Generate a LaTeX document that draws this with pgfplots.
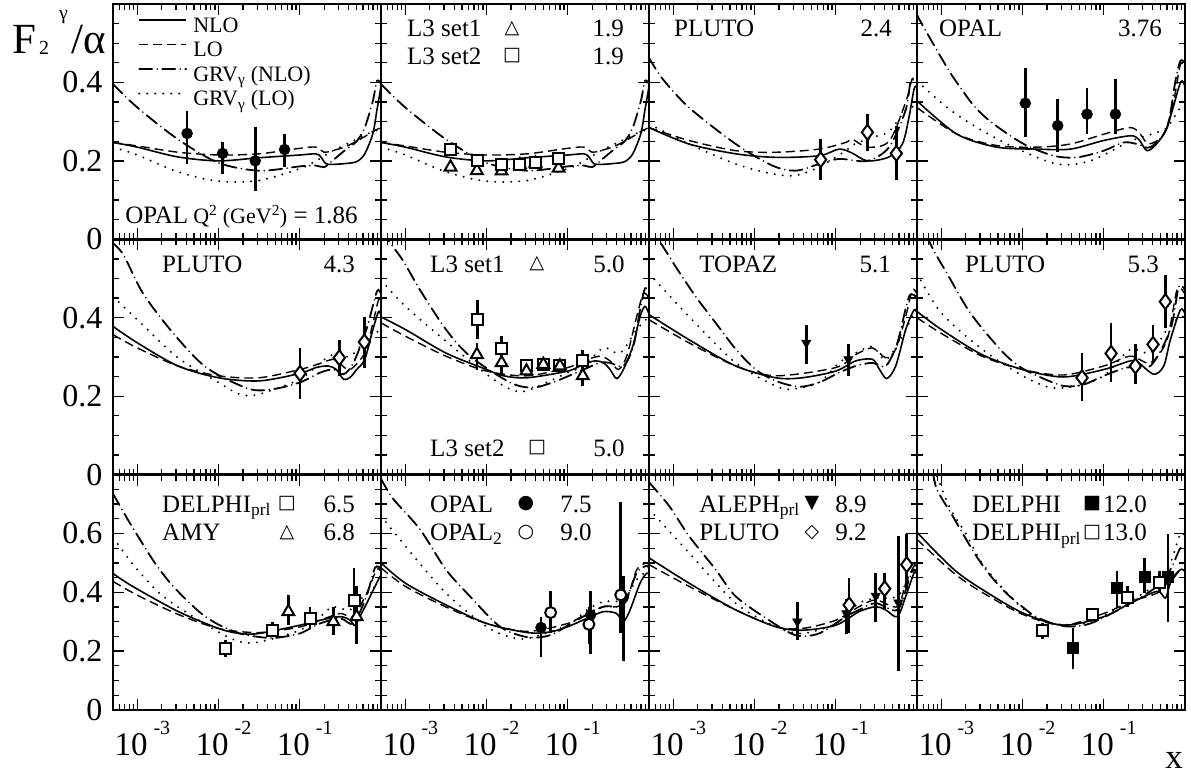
\documentclass[border=0pt]{standalone}
\usepackage{fontspec}
\setmainfont{Liberation Serif}
\newfontfamily\sym{DejaVu Sans}
\usepackage{pgfplots}
\pgfplotsset{compat=1.18}
\usepgfplotslibrary{groupplots}
\usetikzlibrary{calc}
\newcommand\fa{\fontsize{25}{28}\selectfont}
\newcommand\crv[2]{\addplot[#1] table[row sep=\\, x expr={pow(10,\thisrow{l})}, y=v] {l v\\ #2};}
\newcommand\dat[2]{\addplot[errs,#1] table[row sep=\\, x=x, y=y, y error plus=p, y error minus=m] {x y p m\\ #2};}
\newcommand\tlt[2]{\node[anchor=base west,font=\fa,inner sep=0pt] at (rel axis cs:#1) {#2};}
\newcommand\trt[2]{\node[anchor=base east,font=\fa,inner sep=0pt] at (rel axis cs:#1) {#2};}
\newcommand\tsy[2]{\node[anchor=center,font=\sym\fontsize{19}{19}\selectfont,inner sep=0pt] at (rel axis cs:#1) {#2};}
\newcommand\xl[1]{10\hspace{6pt}\raisebox{21pt}{\fontsize{20}{20}\selectfont #1}}
\pgfplotsset{
 nlo/.style={black, line width=1.6pt, smooth, tension=0.5, no marks},
 lo/.style={black, line width=1.4pt, dash pattern=on 9pt off 5pt, smooth, tension=0.5, no marks},
 gnlo/.style={black, line width=1.8pt, line cap=round, dash pattern=on 13pt off 5pt on 0pt off 5pt, smooth, tension=0.5, no marks},
 glo/.style={black, line width=2.2pt, line cap=round, dash pattern=on 0pt off 8pt, smooth, tension=0.5, no marks},
 errs/.style={only marks, black, error bars/y dir=both, error bars/y explicit, error bars/error mark=none, error bars/error bar style={line width=2.6pt, solid}},
 mfc/.style={mark=*, mark size=5.5pt, mark options={fill=black, solid}},
 moc/.style={mark=*, mark size=5.5pt, mark options={fill=white, solid, line width=2pt}},
 msq/.style={mark=square*, mark size=5.5pt, mark options={fill=white, solid, line width=2pt}},
 mfsq/.style={mark=square*, mark size=5.5pt, mark options={fill=black, solid}},
 mtri/.style={mark=triangle*, mark size=6.8pt, mark options={fill=white, solid, line width=2pt}},
 mdtri/.style={mark=triangle*, mark size=5.5pt, mark options={fill=black, rotate=180, solid}},
 mdia/.style={mark=diamond*, mark size=7.5pt, mark options={fill=white, solid, line width=2pt}},
 r12/.style={ymax=0.6, ytick={0,0.2,0.4,0.6}, minor ytick={0.05,0.1,0.15,0.25,0.3,0.35,0.45,0.5,0.55}},
 r3/.style={ymax=0.8, ytick={0,0.2,0.4,0.6,0.8}, minor ytick={0.05,0.1,0.15,0.25,0.3,0.35,0.45,0.5,0.55,0.65,0.7,0.75}},
 lab12/.style={yticklabels={0,0.2,0.4,{}}},
 lab3/.style={yticklabels={0,0.2,0.4,0.6,{}}},
 xlab/.style={xticklabels={\xl{-3},\xl{-2},\xl{-1}}},
}
\begin{document}
\begin{tikzpicture}
\begin{groupplot}[
 group style={group size=4 by 3, horizontal sep=0pt, vertical sep=0pt},
 width=268pt, height=235.3pt, scale only axis,
 xmode=log, xmin=5.012e-4, xmax=1, ymin=0,
 xtick={0.001,0.01,0.1}, xticklabels={}, yticklabels={},
 minor xtick={6e-4,7e-4,8e-4,9e-4,2e-3,3e-3,4e-3,5e-3,6e-3,7e-3,8e-3,9e-3,0.02,0.03,0.04,0.05,0.06,0.07,0.08,0.09,0.2,0.3,0.4,0.5,0.6,0.7,0.8,0.9},
 tick align=inside, major tick length=11pt, minor tick length=6pt,
 tick style={black, line width=1.3pt},
 axis line style={line width=2.4pt},
 xticklabel style={font=\fontsize{33}{36}\selectfont, xshift=5pt, yshift=-8pt},
 yticklabel style={font=\fontsize{32}{34}\selectfont, xshift=-7pt},
]
% ---------- row 1, col 1
\nextgroupplot[r12, lab12,
 legend style={at={(rel axis cs:0.093,0.948)}, anchor=north west, draw=none, fill=none, inner sep=0pt, row sep=1.5pt, column sep=5pt,
   nodes={inner sep=1pt, text height=15pt, text depth=6pt, font=\fontsize{22}{24}\selectfont}},
 legend cell align=left,
 legend image code/.code={\draw[#1] (0pt,8pt) -- (47pt,8pt);}]
\crv{nlo}{-3.3 0.247\\ -3 0.235\\ -2.5 0.21\\ -2 0.2\\ -1.5 0.208\\ -1 0.215\\ -0.8 0.218\\ -0.74 0.21\\ -0.68 0.193\\ -0.6 0.191\\ -0.45 0.193\\ -0.3 0.198\\ -0.2 0.218\\ -0.1 0.27\\ -0.05 0.33\\ -0.02 0.365\\ 0 0.39\\}
\addlegendentry{NLO}
\crv{lo}{-3.3 0.247\\ -3 0.238\\ -2.5 0.222\\ -2 0.215\\ -1.5 0.218\\ -1 0.232\\ -0.8 0.235\\ -0.7 0.222\\ -0.6 0.226\\ -0.45 0.235\\ -0.3 0.25\\ -0.2 0.262\\ -0.1 0.275\\ 0 0.285\\}
\addlegendentry{LO}
\crv{gnlo}{-3.3 0.396\\ -3 0.336\\ -2.5 0.255\\ -2 0.195\\ -1.5 0.175\\ -1 0.186\\ -0.8 0.188\\ -0.7 0.184\\ -0.6 0.2\\ -0.45 0.226\\ -0.3 0.25\\ -0.2 0.285\\ -0.1 0.353\\ -0.05 0.404\\ 0 0.396\\}
\addlegendentry{GRV\textsubscript{γ} (NLO)}
\crv{glo}{-3.3 0.235\\ -3 0.215\\ -2.5 0.172\\ -2 0.148\\ -1.5 0.15\\ -1 0.18\\ -0.8 0.2\\ -0.6 0.225\\ -0.45 0.24\\ -0.3 0.255\\ -0.2 0.265\\ -0.1 0.275\\ 0 0.28\\}
\addlegendentry{GRV\textsubscript{γ} (LO)}
\dat{mfc}{0.0041 0.27 0.058 0.078\\ 0.0112 0.219 0.028 0.052\\ 0.0283 0.20 0.087 0.077\\ 0.065 0.229 0.039 0.045\\}
\node[anchor=base west,font=\fontsize{25}{28}\selectfont,inner sep=0pt] at (rel axis cs:0.045,0.069) {OPAL};
\node[anchor=base west,font=\fontsize{25}{28}\selectfont,inner sep=0pt] at (rel axis cs:0.299,0.069) {{\fontsize{22}{24}\selectfont Q\textsuperscript{2} (GeV\textsuperscript{2})} = 1.86};
% ---------- row 1, col 2
\nextgroupplot[r12]
\crv{nlo}{-3.3 0.247\\ -3 0.235\\ -2.5 0.21\\ -2 0.2\\ -1.5 0.208\\ -1 0.215\\ -0.8 0.218\\ -0.74 0.21\\ -0.68 0.193\\ -0.6 0.191\\ -0.45 0.193\\ -0.3 0.198\\ -0.2 0.218\\ -0.1 0.27\\ -0.05 0.33\\ -0.02 0.365\\ 0 0.39\\}
\crv{lo}{-3.3 0.247\\ -3 0.238\\ -2.5 0.222\\ -2 0.215\\ -1.5 0.218\\ -1 0.232\\ -0.8 0.235\\ -0.7 0.222\\ -0.6 0.226\\ -0.45 0.235\\ -0.3 0.25\\ -0.2 0.262\\ -0.1 0.275\\ 0 0.285\\}
\crv{gnlo}{-3.3 0.396\\ -3 0.336\\ -2.5 0.255\\ -2 0.195\\ -1.5 0.175\\ -1 0.186\\ -0.8 0.188\\ -0.7 0.184\\ -0.6 0.2\\ -0.45 0.226\\ -0.3 0.25\\ -0.2 0.285\\ -0.1 0.353\\ -0.05 0.404\\ 0 0.396\\}
\crv{glo}{-3.3 0.235\\ -3 0.215\\ -2.5 0.172\\ -2 0.148\\ -1.5 0.15\\ -1 0.18\\ -0.8 0.2\\ -0.6 0.225\\ -0.45 0.24\\ -0.3 0.255\\ -0.2 0.265\\ -0.1 0.275\\ 0 0.28\\}
\dat{mtri}{0.0036 0.184 0.01 0.01\\ 0.0076 0.175 0.01 0.01\\ 0.0153 0.174 0.01 0.01\\ 0.0257 0.19 0.01 0.01\\ 0.040 0.194 0.01 0.01\\ 0.077 0.181 0.01 0.01\\}
\dat{msq}{0.00355 0.23 0.014 0.014\\ 0.0077 0.20 0.012 0.012\\ 0.0153 0.192 0.01 0.01\\ 0.0257 0.192 0.01 0.01\\ 0.040 0.197 0.01 0.01\\ 0.077 0.205 0.012 0.012\\}
\tlt{0.097,0.862}{L3 set1}\tsy{0.489,0.896}{△}\trt{0.907,0.862}{1.9}
\tlt{0.097,0.745}{L3 set2}\tsy{0.489,0.779}{□}\trt{0.907,0.745}{1.9}
% ---------- row 1, col 3
\nextgroupplot[r12]
\crv{nlo}{-3.3 0.285\\ -2.807 0.243\\ -2.232 0.218\\ -1.74 0.209\\ -1.206 0.213\\ -0.96 0.23\\ -0.8 0.22\\ -0.611 0.2\\ -0.344 0.21\\ -0.18 0.243\\ -0.1 0.31\\ -0.036 0.383\\ 0 0.39\\}
\crv{lo}{-3.3 0.285\\ -2.807 0.252\\ -2.232 0.226\\ -1.74 0.222\\ -1.206 0.23\\ -0.878 0.247\\ -0.796 0.255\\ -0.611 0.235\\ -0.344 0.25\\ -0.139 0.35\\ -0.057 0.41\\ 0 0.4\\}
\crv{gnlo}{-3.3 0.463\\ -3.136 0.41\\ -2.807 0.336\\ -2.232 0.243\\ -1.781 0.188\\ -1.494 0.175\\ -1.206 0.192\\ -0.96 0.205\\ -0.611 0.2\\ -0.344 0.235\\ -0.139 0.33\\ -0.077 0.404\\ 0 0.4\\}
\crv{glo}{-3.3 0.294\\ -2.807 0.243\\ -2.232 0.192\\ -1.781 0.167\\ -1.494 0.163\\ -1.206 0.184\\ -0.878 0.226\\ -0.796 0.24\\ -0.549 0.26\\ -0.344 0.275\\ -0.139 0.33\\ 0 0.34\\}
\dat{mdia}{0.065 0.203 0.053 0.053\\ 0.245 0.273 0.046 0.047\\ 0.557 0.219 0.071 0.069\\}
\tlt{0.093,0.862}{PLUTO}\trt{0.907,0.862}{2.4}
% ---------- row 1, col 4
\nextgroupplot[r12]
\crv{nlo}{-3.3 0.353\\ -2.807 0.268\\ -2.315 0.235\\ -1.822 0.23\\ -1.411 0.23\\ -1.001 0.252\\ -0.673 0.264\\ -0.57 0.255\\ -0.467 0.226\\ -0.344 0.245\\ -0.221 0.285\\ -0.077 0.387\\ -0.036 0.404\\ 0 0.39\\}
\crv{lo}{-3.3 0.336\\ -2.807 0.268\\ -2.315 0.239\\ -1.822 0.235\\ -1.411 0.243\\ -1.001 0.268\\ -0.673 0.285\\ -0.55 0.268\\ -0.447 0.243\\ -0.262 0.268\\ -0.139 0.353\\ -0.057 0.446\\ 0 0.44\\}
\crv{gnlo}{-3.3 0.575\\ -3.259 0.556\\ -2.93 0.438\\ -2.766 0.387\\ -2.581 0.336\\ -2.356 0.294\\ -1.986 0.243\\ -1.617 0.213\\ -1.329 0.209\\ -1.001 0.226\\ -0.755 0.247\\ -0.59 0.243\\ -0.426 0.235\\ -0.221 0.285\\ -0.118 0.404\\ -0.057 0.455\\ 0 0.45\\}
\crv{glo}{-3.3 0.404\\ -2.93 0.336\\ -2.561 0.285\\ -2.109 0.235\\ -1.576 0.192\\ -1.165 0.2\\ -0.673 0.25\\ -0.385 0.27\\ -0.221 0.285\\ -0.057 0.336\\ 0 0.34\\}
\dat{mfc}{0.0108 0.347 0.091 0.087\\ 0.0271 0.29 0.067 0.068\\ 0.0622 0.319 0.068 0.051\\ 0.139 0.319 0.089 0.051\\}
\tlt{0.082,0.862}{OPAL}\trt{0.914,0.862}{3.76}
% ---------- row 2, col 1
\nextgroupplot[r12, lab12]
\crv{nlo}{-3.3 0.378\\ -3 0.336\\ -2.5 0.277\\ -2 0.247\\ -1.5 0.239\\ -1 0.258\\ -0.8 0.273\\ -0.65 0.277\\ -0.55 0.268\\ -0.46 0.243\\ -0.38 0.248\\ -0.3 0.268\\ -0.2 0.294\\ -0.1 0.37\\ -0.03 0.416\\ 0 0.405\\}
\crv{lo}{-3.3 0.357\\ -3 0.323\\ -2.5 0.277\\ -2 0.252\\ -1.5 0.247\\ -1 0.268\\ -0.8 0.28\\ -0.59 0.294\\ -0.5 0.282\\ -0.38 0.268\\ -0.2 0.31\\ -0.1 0.386\\ -0.03 0.446\\ 0 0.44\\}
\crv{gnlo}{-3.3 0.59\\ -3.17 0.56\\ -2.93 0.462\\ -2.56 0.361\\ -2.15 0.273\\ -1.63 0.219\\ -1.33 0.218\\ -1 0.235\\ -0.75 0.26\\ -0.59 0.268\\ -0.46 0.256\\ -0.34 0.285\\ -0.18 0.37\\ -0.05 0.467\\ 0 0.46\\}
\crv{glo}{-3.3 0.454\\ -3 0.395\\ -2.5 0.298\\ -2 0.235\\ -1.74 0.205\\ -1.5 0.205\\ -1 0.243\\ -0.75 0.285\\ -0.59 0.306\\ -0.38 0.302\\ -0.18 0.344\\ 0 0.37\\}
\dat{mdia}{0.1007 0.258 0.065 0.066\\ 0.307 0.298 0.046 0.046\\ 0.624 0.338 0.065 0.065\\}
\tlt{0.183,0.861}{PLUTO}\trt{0.903,0.861}{4.3}
% ---------- row 2, col 2
\nextgroupplot[r12]
\crv{nlo}{-3.3 0.402\\ -3 0.37\\ -2.5 0.31\\ -2 0.268\\ -1.79 0.252\\ -1.5 0.247\\ -1 0.264\\ -0.81 0.281\\ -0.665 0.29\\ -0.56 0.285\\ -0.48 0.268\\ -0.398 0.245\\ -0.316 0.268\\ -0.2 0.327\\ -0.11 0.403\\ -0.05 0.429\\ 0 0.41\\}
\crv{lo}{-3.3 0.387\\ -3 0.353\\ -2.5 0.302\\ -2 0.264\\ -1.5 0.252\\ -1 0.273\\ -0.81 0.29\\ -0.603 0.302\\ -0.48 0.29\\ -0.377 0.268\\ -0.275 0.302\\ -0.151 0.403\\ -0.069 0.462\\ 0 0.45\\}
\crv{gnlo}{-3.3 0.62\\ -3.046 0.551\\ -2.82 0.471\\ -2.5 0.37\\ -2.204 0.302\\ -1.711 0.235\\ -1.424 0.222\\ -1.137 0.239\\ -0.808 0.268\\ -0.603 0.285\\ -0.48 0.285\\ -0.316 0.277\\ -0.193 0.327\\ -0.11 0.42\\ -0.049 0.475\\ 0 0.46\\}
\crv{glo}{-3.3 0.496\\ -3 0.429\\ -2.5 0.34\\ -2 0.256\\ -1.711 0.218\\ -1.5 0.214\\ -1 0.26\\ -0.808 0.277\\ -0.562 0.323\\ -0.357 0.31\\ -0.151 0.37\\ 0 0.403\\}
\dat{msq}{0.0077 0.395 0.051 0.05\\ 0.0153 0.321 0.032 0.031\\ 0.0312 0.277 0.013 0.015\\ 0.050 0.281 0.01 0.01\\ 0.080 0.277 0.01 0.01\\ 0.153 0.292 0.027 0.024\\}
\dat{mtri}{0.0076 0.306 0.03 0.038\\ 0.0153 0.285 0.038 0.033\\ 0.031 0.264 0.02 0.013\\ 0.050 0.281 0.01 0.01\\ 0.080 0.277 0.01 0.01\\ 0.153 0.252 0.025 0.026\\}
\tlt{0.183,0.861}{L3 set1}\tsy{0.582,0.895}{△}\trt{0.910,0.861}{5.0}
\tlt{0.183,0.079}{L3 set2}\tsy{0.582,0.113}{□}\trt{0.910,0.079}{5.0}
% ---------- row 2, col 3
\nextgroupplot[r12]
\crv{nlo}{-3.3 0.408\\ -2.807 0.344\\ -2.232 0.277\\ -1.74 0.247\\ -1.411 0.247\\ -1 0.264\\ -0.755 0.29\\ -0.549 0.294\\ -0.467 0.27\\ -0.373 0.245\\ -0.262 0.277\\ -0.139 0.37\\ -0.036 0.42\\ 0 0.41\\}
\crv{lo}{-3.3 0.395\\ -2.807 0.336\\ -2.232 0.277\\ -1.74 0.252\\ -1 0.273\\ -0.755 0.306\\ -0.549 0.323\\ -0.385 0.298\\ -0.262 0.319\\ -0.139 0.403\\ -0.057 0.471\\ 0 0.46\\}
\crv{gnlo}{-3.3 0.64\\ -3.177 0.598\\ -2.971 0.53\\ -2.725 0.454\\ -2.479 0.387\\ -2.232 0.32\\ -1.986 0.268\\ -1.74 0.239\\ -1.452 0.224\\ -1.206 0.235\\ -0.96 0.26\\ -0.755 0.277\\ -0.549 0.285\\ -0.385 0.277\\ -0.242 0.336\\ -0.098 0.454\\ 0 0.45\\}
\crv{glo}{-3.3 0.513\\ -2.807 0.403\\ -2.232 0.285\\ -1.74 0.226\\ -1.535 0.218\\ -1.206 0.235\\ -0.96 0.285\\ -0.755 0.31\\ -0.549 0.327\\ -0.385 0.293\\ -0.18 0.352\\ -0.057 0.403\\ 0 0.4\\}
\dat{mdtri}{0.0433 0.336 0.046 0.055\\ 0.143 0.294 0.038 0.042\\}
\tlt{0.187,0.861}{TOPAZ}\trt{0.903,0.861}{5.1}
% ---------- row 2, col 4
\nextgroupplot[r12]
\crv{nlo}{-3.3 0.416\\ -3 0.37\\ -2.5 0.306\\ -2 0.268\\ -1.5 0.249\\ -1 0.268\\ -0.673 0.29\\ -0.57 0.285\\ -0.385 0.256\\ -0.262 0.277\\ -0.18 0.344\\ -0.057 0.42\\ 0 0.41\\}
\crv{lo}{-3.3 0.4\\ -3 0.36\\ -2.5 0.302\\ -2 0.268\\ -1.5 0.254\\ -1 0.277\\ -0.673 0.302\\ -0.426 0.285\\ -0.221 0.344\\ -0.098 0.471\\ 0 0.46\\}
\crv{gnlo}{-3.3 0.66\\ -3.095 0.572\\ -2.93 0.513\\ -2.643 0.412\\ -2.274 0.319\\ -2.048 0.277\\ -1.822 0.252\\ -1.494 0.226\\ -1.247 0.23\\ -1 0.252\\ -0.714 0.273\\ -0.426 0.277\\ -0.18 0.37\\ -0.077 0.479\\ 0 0.47\\}
\crv{glo}{-3.3 0.513\\ -3 0.412\\ -2.5 0.32\\ -2 0.252\\ -1.658 0.222\\ -1.329 0.226\\ -1 0.252\\ -0.673 0.319\\ -0.426 0.31\\ -0.221 0.37\\ -0.057 0.403\\ 0 0.4\\}
\dat{mdia}{0.054 0.247 0.063 0.059\\ 0.123 0.309 0.078 0.074\\ 0.245 0.277 0.055 0.047\\ 0.404 0.332 0.05 0.047\\ 0.573 0.441 0.068 0.067\\}
\tlt{0.179,0.861}{PLUTO}\trt{0.903,0.861}{5.3}
% ---------- row 3, col 1
\nextgroupplot[r3, lab3, xlab]
\crv{nlo}{-3.3 0.464\\ -3.07 0.422\\ -2.5 0.335\\ -2 0.277\\ -1.74 0.26\\ -1.5 0.26\\ -1 0.288\\ -0.75 0.305\\ -0.5 0.317\\ -0.38 0.305\\ -0.32 0.288\\ -0.217 0.34\\ -0.094 0.408\\ -0.012 0.454\\ 0 0.45\\}
\crv{lo}{-3.3 0.437\\ -3 0.39\\ -2.5 0.325\\ -2 0.277\\ -1.5 0.263\\ -1 0.282\\ -0.75 0.305\\ -0.5 0.328\\ -0.34 0.317\\ -0.176 0.397\\ -0.053 0.477\\ 0 0.47\\}
\crv{gnlo}{-3.3 0.735\\ -3.1 0.639\\ -2.94 0.567\\ -2.78 0.498\\ -2.6 0.433\\ -2.4 0.375\\ -2.2 0.325\\ -2 0.29\\ -1.74 0.26\\ -1.5 0.248\\ -1.3 0.245\\ -1 0.26\\ -0.75 0.294\\ -0.5 0.311\\ -0.34 0.294\\ -0.18 0.386\\ -0.074 0.483\\ 0 0.48\\}
\crv{glo}{-3.3 0.586\\ -3.07 0.5\\ -2.9 0.446\\ -2.74 0.4\\ -2.5 0.35\\ -2 0.265\\ -1.74 0.232\\ -1.5 0.231\\ -1 0.271\\ -0.75 0.317\\ -0.59 0.351\\ -0.38 0.34\\ -0.18 0.397\\ -0.012 0.43\\ 0 0.43\\}
\dat{msq}{0.0122 0.21 0.027 0.03\\ 0.0465 0.271 0.029 0.023\\ 0.134 0.311 0.04 0.034\\ 0.466 0.371 0.112 0.06\\}
\dat{mtri}{0.0723 0.334 0.057 0.046\\ 0.259 0.30 0.051 0.046\\ 0.501 0.317 0.103 0.092\\}
\tlt{0.183,0.841}{DELPHI\textsubscript{prl}}\tsy{0.649,0.875}{□}\trt{0.903,0.841}{6.5}
\tlt{0.183,0.718}{AMY}\tsy{0.649,0.752}{△}\trt{0.903,0.718}{6.8}
% ---------- row 3, col 2
\nextgroupplot[r3, xlab]
\crv{nlo}{-3.3 0.5\\ -3 0.431\\ -2.5 0.357\\ -2 0.294\\ -1.5 0.263\\ -1.22 0.265\\ -1 0.283\\ -0.767 0.311\\ -0.562 0.334\\ -0.4 0.328\\ -0.316 0.3\\ -0.233 0.34\\ -0.11 0.431\\ -0.028 0.465\\ 0 0.46\\}
\crv{lo}{-3.3 0.483\\ -3 0.42\\ -2.5 0.35\\ -2 0.294\\ -1.5 0.267\\ -1 0.294\\ -0.767 0.328\\ -0.562 0.351\\ -0.398 0.351\\ -0.275 0.374\\ -0.151 0.477\\ -0.028 0.5\\ 0 0.49\\}
\crv{gnlo}{-3.3 0.786\\ -3.148 0.717\\ -2.82 0.614\\ -2.5 0.477\\ -2.204 0.386\\ -1.835 0.283\\ -1.506 0.248\\ -1.219 0.254\\ -0.891 0.305\\ -0.562 0.351\\ -0.316 0.357\\ -0.151 0.466\\ -0.028 0.49\\ 0 0.48\\}
\crv{glo}{-3.3 0.66\\ -3 0.557\\ -2.5 0.397\\ -2 0.283\\ -1.711 0.248\\ -1.5 0.243\\ -1 0.288\\ -0.767 0.34\\ -0.562 0.368\\ -0.316 0.374\\ -0.151 0.443\\ 0 0.477\\}
\dat{mfc}{0.0468 0.28 0.037 0.10\\ 0.191 0.323 0.08 0.132\\ 0.483 0.383 0.071 0.215\\}
\dat{moc}{0.0615 0.331 0.072 0.071\\ 0.182 0.291 0.06 0.066\\ 0.449 0.391 0.315 0.131\\}
\tlt{0.183,0.841}{OPAL}\tsy{0.541,0.875}{●}\trt{0.787,0.841}{7.5}
\tlt{0.183,0.718}{OPAL\textsubscript{2}}\tsy{0.541,0.752}{○}\trt{0.787,0.718}{9.0}
% ---------- row 3, col 3
\nextgroupplot[r3, xlab]
\crv{nlo}{-3.3 0.517\\ -2.807 0.431\\ -2.232 0.34\\ -1.74 0.283\\ -1.411 0.271\\ -1 0.288\\ -0.714 0.334\\ -0.508 0.351\\ -0.385 0.34\\ -0.242 0.317\\ -0.139 0.386\\ -0.036 0.466\\ 0 0.46\\}
\crv{lo}{-3.3 0.494\\ -2.807 0.42\\ -2.232 0.34\\ -1.74 0.283\\ -1.411 0.277\\ -1 0.305\\ -0.714 0.351\\ -0.508 0.374\\ -0.242 0.351\\ -0.139 0.431\\ -0.036 0.489\\ 0 0.48\\}
\crv{gnlo}{-3.3 0.774\\ -3.053 0.694\\ -2.807 0.591\\ -2.479 0.477\\ -2.232 0.386\\ -1.822 0.305\\ -1.494 0.254\\ -1.206 0.26\\ -0.878 0.317\\ -0.714 0.34\\ -0.508 0.363\\ -0.242 0.34\\ -0.098 0.443\\ -0.036 0.477\\ 0 0.47\\}
\crv{glo}{-3.3 0.683\\ -2.807 0.534\\ -2.232 0.363\\ -1.74 0.283\\ -1.411 0.26\\ -1 0.294\\ -0.714 0.363\\ -0.508 0.38\\ -0.242 0.386\\ -0.098 0.454\\ -0.016 0.5\\ 0 0.5\\}
\dat{mdtri}{0.0336 0.30 0.068 0.063\\ 0.135 0.328 0.05 0.07\\ 0.31 0.388 0.078 0.088\\ 0.59 0.365 0.226 0.231\\}
\dat{mdia}{0.146 0.357 0.091 0.097\\ 0.40 0.412 0.054 0.072\\ 0.748 0.494 0.103 0.086\\}
\tlt{0.187,0.841}{ALEPH\textsubscript{prl}}\tsy{0.608,0.875}{▼}\trt{0.813,0.841}{8.9}
\tlt{0.187,0.718}{PLUTO}\tsy{0.608,0.752}{◇}\trt{0.813,0.718}{9.2}
% ---------- row 3, col 4
\nextgroupplot[r3, xlab]
\crv{nlo}{-3.3 0.604\\ -3.05 0.532\\ -2.8 0.467\\ -2.5 0.41\\ -2 0.33\\ -1.5 0.288\\ -1 0.317\\ -0.673 0.363\\ -0.344 0.403\\ -0.241 0.38\\ -0.18 0.431\\ -0.057 0.477\\ 0 0.47\\}
\crv{lo}{-3.3 0.58\\ -3.05 0.515\\ -2.8 0.455\\ -2.5 0.4\\ -2 0.325\\ -1.5 0.288\\ -1 0.328\\ -0.673 0.368\\ -0.344 0.397\\ -0.221 0.431\\ -0.057 0.477\\ 0 0.47\\}
\crv{gnlo}{-3.3 0.95\\ -3.12 0.82\\ -3.054 0.749\\ -2.869 0.663\\ -2.725 0.594\\ -2.57 0.523\\ -2.397 0.457\\ -2.2 0.397\\ -2 0.35\\ -1.822 0.315\\ -1.5 0.285\\ -1.165 0.294\\ -0.673 0.363\\ -0.344 0.42\\ -0.18 0.477\\ -0.057 0.55\\ 0 0.54\\}
\crv{glo}{-3.3 1.0\\ -3.1 0.83\\ -2.9 0.69\\ -2.7 0.6\\ -2.5 0.5\\ -2.2 0.4\\ -2 0.345\\ -1.822 0.31\\ -1.5 0.29\\ -1.165 0.3\\ -0.673 0.37\\ -0.344 0.431\\ -0.18 0.5\\ -0.057 0.6\\ 0 0.59\\}
\dat{mfsq}{0.0418 0.212 0.065 0.072\\ 0.146 0.414 0.057 0.063\\ 0.315 0.454 0.063 0.057\\ 0.618 0.454 0.143 0.154\\}
\dat{msq}{0.0177 0.271 0.023 0.029\\ 0.0716 0.323 0.017 0.017\\ 0.197 0.382 0.038 0.031\\ 0.489 0.434 0.037 0.037\\}
\tlt{0.205,0.841}{DELPHI}\tsy{0.653,0.875}{■}\trt{0.858,0.841}{12.0}
\tlt{0.205,0.718}{DELPHI\textsubscript{prl}}\tsy{0.653,0.752}{□}\trt{0.858,0.718}{13.0}
\end{groupplot}
\node[anchor=base west, inner sep=0pt] at ($(group c1r1.north west)+(-101pt,-49pt)$) {\fontsize{43}{43}\selectfont F\hspace{3pt}\raisebox{-1pt}{\fontsize{20}{20}\selectfont 2}\hspace{10pt}\raisebox{34pt}{\fontsize{20}{20}\selectfont γ}\hspace{4pt}/α};
\node[anchor=base, inner sep=0pt] at ($(group c4r3.south east)+(-11pt,-59pt)$) {\fontsize{35}{35}\selectfont x};
\pgfresetboundingbox
\path[use as bounding box] ($(group c1r1.north west)+(-113pt,4pt)$) rectangle ($(group c4r3.south east)+(6pt,-67pt)$);
\end{tikzpicture}
\end{document}
